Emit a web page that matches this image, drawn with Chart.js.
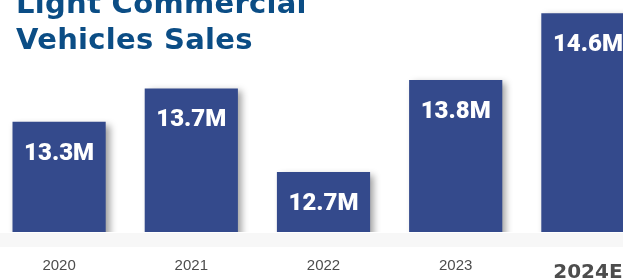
<!DOCTYPE html>
<html>
<head>
<meta charset="utf-8">
<script src="https://cdn.jsdelivr.net/npm/chart.js@4"></script>
<style>
  html, body { margin: 0; padding: 0; }
  body {
    width: 623px; height: 280px; overflow: hidden; position: relative;
    background: linear-gradient(to bottom, #fff 0, #fff 233px, #f7f7f7 233px, #f7f7f7 247px, #fff 247px);
  }
  #title {
    position: absolute; left: 16px; top: -15px; z-index: 2;
    font-family: "DejaVu Sans", sans-serif; font-weight: bold; font-size: 29px;
    line-height: 36px; color: #0b4d85; letter-spacing: 0.3px;
  }
  #wrap { position: absolute; left: -7px; top: 0; width: 661px; height: 280px; }
</style>
</head>
<body>
<div id="title">Light Commercial<br>Vehicles Sales</div>
<div id="wrap"><canvas id="salesChart"></canvas></div>
<script>
const years = ["2020", "2021", "2022", "2023", "2024E"]
const sales = [13.3, 13.7, 12.7, 13.8, 14.6] //millions of units
const valueLabels = ["13.3M", "13.7M", "12.7M", "13.8M", "14.6M"]

//soft drop shadow under the bars
const barShadow = {
    id: "barShadow",
    beforeDatasetDraw(chart) {
        const ctx = chart.ctx
        ctx.save()
        ctx.shadowColor = "rgba(0,0,0,0.38)"
        ctx.shadowBlur = 7
        ctx.shadowOffsetX = 4
        ctx.shadowOffsetY = 3
    },
    afterDatasetDraw(chart) {
        chart.ctx.restore()
    }
}

//white value text near the top of each bar
const barValues = {
    id: "barValues",
    afterDatasetsDraw(chart) {
        const ctx = chart.ctx
        ctx.save()
        ctx.font = "900 24px Roboto, sans-serif"
        ctx.fillStyle = "#ffffff"
        ctx.textAlign = "center"
        ctx.textBaseline = "middle"
        chart.getDatasetMeta(0).data.forEach((bar, i) => {
            ctx.fillText(valueLabels[i], bar.x, bar.y + 32)
        })
        ctx.restore()
    }
}

new Chart("salesChart", {
    type: "bar",
    data: {
        labels: years,
        datasets: [{
            data: sales,
            backgroundColor: "#344a8c",
            barPercentage: 0.705,
            categoryPercentage: 1
        }]
    },
    options: {
        responsive: true,
        maintainAspectRatio: false,
        animation: false,
        layout: { padding: 0 },
        scales: {
            x: {
                grid: { display: false, drawTicks: false },
                border: { display: false },
                afterFit: (scale) => { scale.height = 48 }, //keep the plot bottom at 232px
                ticks: {
                    padding: 25,
                    color: "#4d4d4d",
                    font: (c) => c.index === 4
                        ? { family: "DejaVu Sans", size: 20, weight: "bold", lineHeight: 1.6 }
                        : { family: "Liberation Sans", size: 15, lineHeight: 1.2 }
                }
            },
            y: { display: false, min: 11.98, max: 14.76 }
        },
        plugins: {
            legend: { display: false },
            tooltip: { enabled: false }
        }
    },
    plugins: [barShadow, barValues]
})
</script>
</body>
</html>
